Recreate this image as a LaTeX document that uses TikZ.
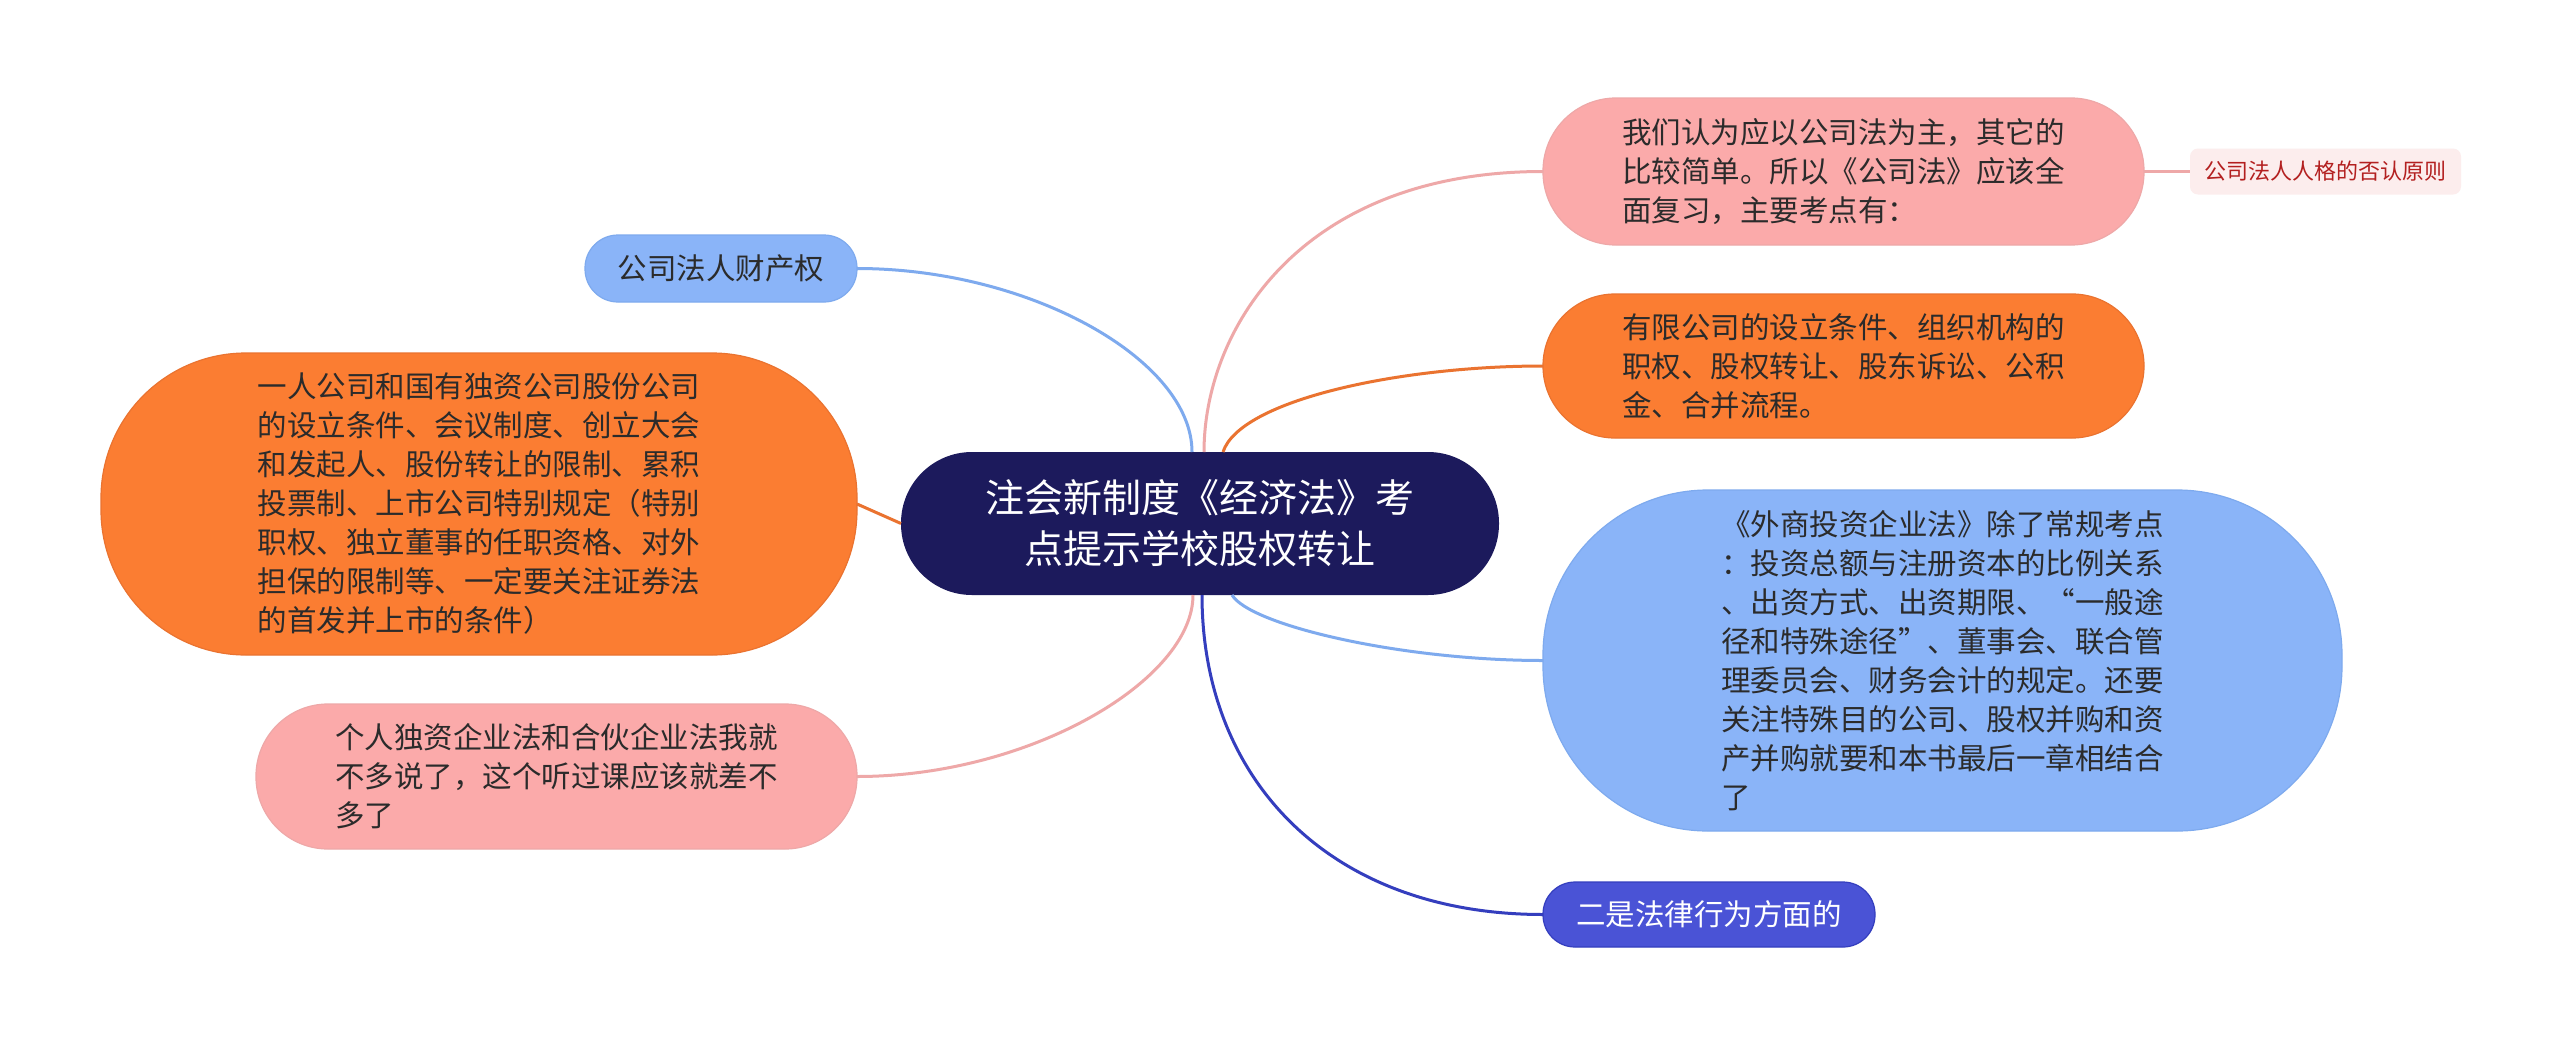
\documentclass[tikz,border=0pt]{standalone}
\usepackage{fontspec}
\newfontfamily\cjk{Noto Sans CJK SC}
\usetikzlibrary{calc}
\definecolor{rootfill}{HTML}{1C1A5C}
\definecolor{bluefill}{HTML}{8AB4F8}
\definecolor{blueline}{HTML}{7EAAEE}
\definecolor{orangefill}{HTML}{FB7D32}
\definecolor{orangeline}{HTML}{EA7330}
\definecolor{pinkfill}{HTML}{FBAAAA}
\definecolor{pinkline}{HTML}{EEA8A8}
\definecolor{dbluefill}{HTML}{4A53D6}
\definecolor{dblueline}{HTML}{343EBE}
\definecolor{labelfill}{HTML}{FCEDED}
\definecolor{labeltext}{HTML}{B32020}
\definecolor{txt}{HTML}{2B2B2B}
\begin{document}
\begin{tikzpicture}[x=1pt,y=-1pt,
  base/.style={rectangle, inner sep=0pt, outer sep=0pt, align=left, text=txt,
    font=\cjk\fontsize{29.5}{39}\selectfont},
  rootbox/.style={base, fill=rootfill, align=center, text=white,
    font=\cjk\fontsize{39}{51}\selectfont,
    minimum width=598pt, minimum height=143pt, rounded corners=71pt},
  bluebox/.style={base, fill=bluefill, draw=blueline, line width=1.2pt},
  orangebox/.style={base, fill=orangefill, draw=orangeline, line width=1.2pt},
  pinkbox/.style={base, fill=pinkfill, draw=pinkline, line width=1.2pt},
  dbluebox/.style={base, fill=dbluefill, draw=dblueline, line width=1.2pt, text=white},
  labelbox/.style={base, fill=labelfill, text=labeltext,
    font=\cjk\fontsize{22}{28}\selectfont, rounded corners=8pt},
  conn/.style={line width=3pt}
]
\useasboundingbox[fill=white] (0,0) rectangle (2560,1047);

% nodes
\node[rootbox] (root) at (1200,523.5) {注会新制度《经济法》考\\点提示学校股权转让};

\node[bluebox, minimum width=272pt, minimum height=67pt, rounded corners=33pt]
  (n1) at (721,268.5) {公司法人财产权};

\node[orangebox, minimum width=756pt, minimum height=302pt, rounded corners=145pt]
  (n2) at (479,504) {一人公司和国有独资公司股份公司\\的设立条件、会议制度、创立大会\\和发起人、股份转让的限制、累积\\投票制、上市公司特别规定（特别\\职权、独立董事的任职资格、对外\\担保的限制等、一定要关注证券法\\的首发并上市的条件）};

\node[pinkbox, minimum width=601pt, minimum height=145pt, rounded corners=72pt]
  (n3) at (556.5,776.5) {个人独资企业法和合伙企业法我就\\不多说了，这个听过课应该就差不\\多了};

\node[pinkbox, minimum width=601pt, minimum height=147pt, rounded corners=73pt]
  (r1) at (1843.5,171.5) {我们认为应以公司法为主，其它的\\比较简单。所以《公司法》应该全\\面复习，主要考点有：};

\node[labelbox, minimum width=271pt, minimum height=46pt]
  (r1a) at (2325.5,171.5) {公司法人人格的否认原则};

\node[orangebox, minimum width=601pt, minimum height=144pt, rounded corners=72pt]
  (r2) at (1843.5,366) {有限公司的设立条件、组织机构的\\职权、股权转让、股东诉讼、公积\\金、合并流程。};

\node[bluebox, minimum width=799pt, minimum height=341pt, rounded corners=165pt]
  (r3) at (1942.5,660.5) {《外商投资企业法》除了常规考点\\：投资总额与注册资本的比例关系\\、出资方式、出资期限、“一般途\\径和特殊途径”、董事会、联合管\\理委员会、财务会计的规定。还要\\关注特殊目的公司、股权并购和资\\产并购就要和本书最后一章相结合\\了};

\node[dbluebox, minimum width=332pt, minimum height=65pt, rounded corners=32pt]
  (r4) at (1709,914.5) {二是法律行为方面的};

% connectors
\draw[conn, blueline] ($(root.north)+(-8,0)$) .. controls +(0,-92) and +(173,0) .. (n1.east);
\draw[conn, orangeline] (root.west) -- (n2.east);
\draw[conn, pinkline] ($(root.south)+(-7,0)$) .. controls +(0,85) and +(173,0) .. (n3.east);
\draw[conn, pinkline] ($(root.north)+(4,0)$) .. controls +(0,-122) and +(-243,0) .. (r1.west);
\draw[conn, pinkline] (r1.east) -- (r1a.west);
\draw[conn, orangeline] ($(root.north)+(23,0)$) .. controls +(17,-52) and +(-143,0) .. (r2.west);
\draw[conn, blueline] ($(root.south)+(32,0)$) .. controls +(18,30) and +(-143,0) .. (r3.west);
\draw[conn, dblueline] ($(root.south)+(2,0)$) .. controls +(0,185) and +(-213,0) .. (r4.west);
\end{tikzpicture}
\end{document}
